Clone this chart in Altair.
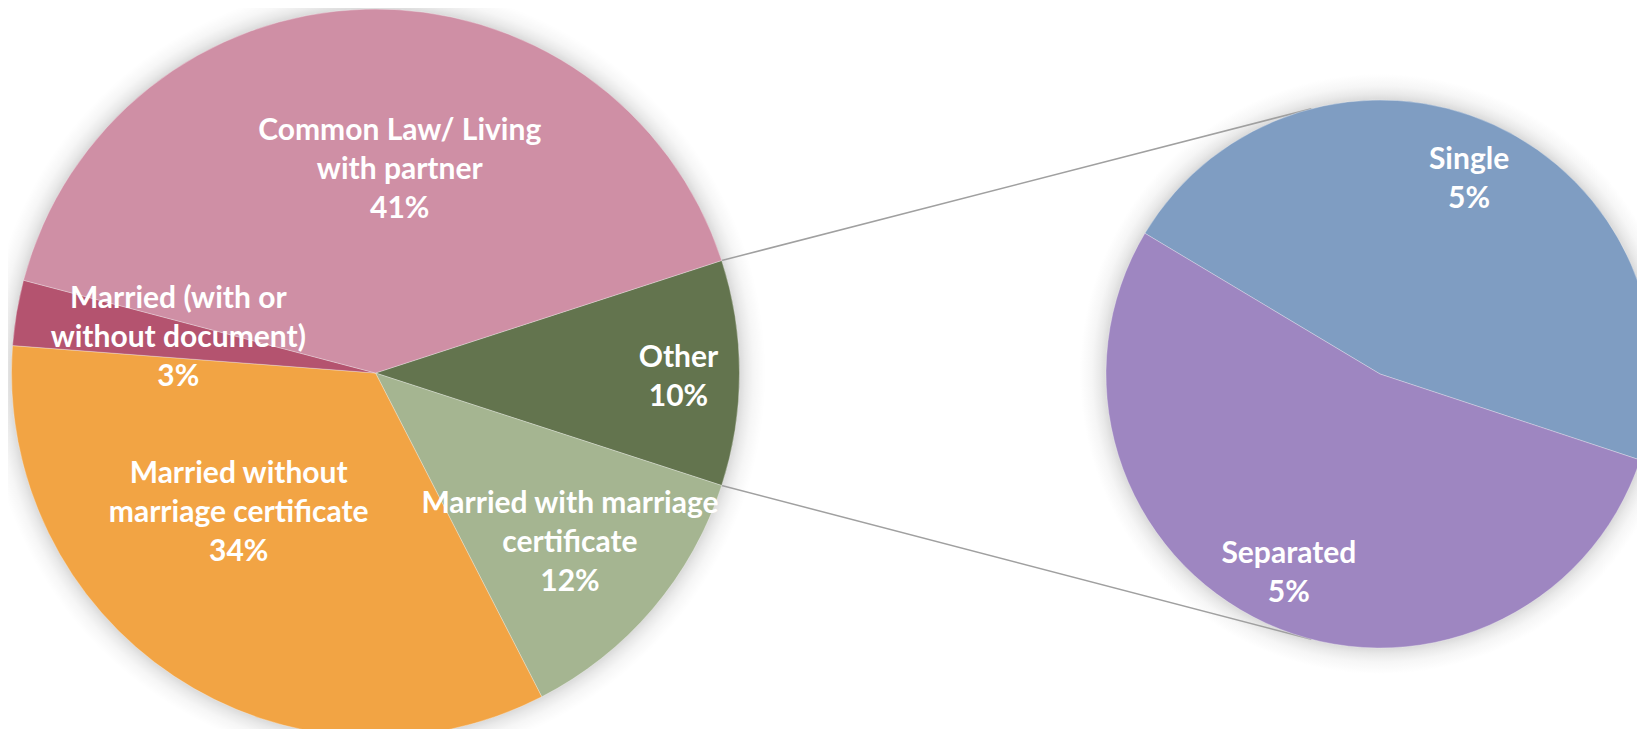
import math
import altair as alt
import pandas as pd

# ---------------- data ----------------
sub_cats = ["Single", "Separated"]
sub_vals = [4.65, 5.35]
sub_names = ["Single", "Separated"]

main_cats = ["Other", "Married with marriage certificate", "Married without marriage certificate",
             "Married (with or without document)", "Common Law/ Living with partner"]
main_rest_vals = [12.45, 33.75, 2.9, 40.9]
main_names = ["Other", "Married with marriage\ncertificate", "Married without\nmarriage certificate",
              "Married (with or\nwithout document)", "Common Law/ Living\nwith partner"]

palette_main = ["#63744E", "#A5B591", "#F2A444", "#B4536F", "#CF8FA5"]
palette_sub = ["#7F9DC2", "#9E86C1"]

main_vals = [sum(sub_vals)] + main_rest_vals


def frame(cats, vals, names):
    return pd.DataFrame({
        "cat": cats,
        "value": vals,
        "label": [n + "\n" + f"{round(v)}%" for n, v in zip(names, vals)],
        "idx": list(range(len(cats))),
    })


df_main = frame(main_cats, main_vals, main_names)
df_sub = frame(sub_cats, sub_vals, sub_names)

# ---------------- layout ----------------
MX, MY, MR = 367.5, 365.0, 364.0
SX, SY, SR = 1372.0, 366.0, 274.0
FONT = "Lato"
FS = 30
LH = 39

main_start = math.radians(90 - 180 * main_vals[0] / sum(main_vals))
sub_start = math.radians(300.9)

color_scale = alt.Scale(domain=main_cats + sub_cats, range=palette_main + palette_sub)
one = pd.DataFrame({"k": [0]})


def glow(cx, cy, r):
    R = r + 26
    grad = {
        "gradient": "radial",
        "x1": 0.5, "y1": 0.5, "r1": 0,
        "x2": 0.5, "y2": 0.5, "r2": 0.5,
        "stops": [
            {"offset": 0, "color": "#dadada"},
            {"offset": r / R, "color": "#dadada"},
            {"offset": (r + 6) / R, "color": "#e9e9e9"},
            {"offset": (r + 14) / R, "color": "#f6f6f6"},
            {"offset": 1, "color": "#ffffff"},
        ],
    }
    return alt.Chart(one).mark_arc(theta=0, theta2=2 * math.pi, radius=R, color=grad).encode(
        x=alt.value(cx), y=alt.value(cy))


def pie(df, cx, cy, r, start, label_specs):
    theta = alt.Theta("value:Q", stack=True,
                      scale=alt.Scale(range=[start, start + 2 * math.pi]))
    base = alt.Chart(df).encode(theta=theta, order=alt.Order("idx:Q"))
    arcs = base.mark_arc(radius=r, stroke="#ffffff", strokeWidth=0.6, strokeOpacity=0.5).encode(
        color=alt.Color("cat:N", scale=color_scale, legend=None),
        x=alt.value(cx), y=alt.value(cy))
    layers = [arcs]
    labels = dict(zip(df["cat"], df["label"]))
    for cat, rr, dx, dy in label_specs:
        nlines = labels[cat].count("\n") + 1
        shift = -(nlines - 1) * LH / 2  # centre the multi-line block on the anchor
        layers.append(
            base.mark_text(radius=rr, dx=dx, dy=dy + shift, font=FONT, fontSize=FS, fontWeight="bold",
                           color="#ffffff", lineBreak="\n", lineHeight=LH,
                           align="center", baseline="middle").encode(
                text=alt.condition(f"datum.cat === '{cat}'", "label:N", alt.value("")),
                x=alt.value(cx), y=alt.value(cy))
        )
    return alt.layer(*layers)


main_pie = pie(df_main, MX, MY, MR, main_start, [
    ("Other", 303, 0, 4),
    ("Married with marriage certificate", 258, -2, 3),
    ("Married without marriage certificate", 195, -29, -22),
    ("Married (with or without document)", 200, 0, -2),
    ("Common Law/ Living with partner", 204, 30, 1),
])
sub_pie = pie(df_sub, SX, SY, SR, sub_start, [
    ("Single", 214, 0, 0),
    ("Separated", 219, 0, 0),
])

# connector lines from the "Other" slice edges to the second pie
half = math.pi * main_vals[0] / sum(main_vals)
end_ang = math.radians(75.5)
lines = []
for s in (-1, 1):
    lines.append(alt.Chart(one).mark_rule(color="#a0a0a0", strokeWidth=1.5).encode(
        x=alt.value(MX + MR * math.cos(half)), y=alt.value(MY + s * MR * math.sin(half)),
        x2=alt.value(SX - SR * math.cos(end_ang)), y2=alt.value(SY + s * SR * math.sin(end_ang))))

chart = alt.layer(
    glow(MX, MY, MR), glow(SX, SY, SR), *lines, main_pie, sub_pie
).resolve_scale(theta="independent").properties(
    width=1629, height=721, padding=0,
    autosize=alt.AutoSizeParams(type="none"),
    background="#ffffff",
).configure_view(stroke=None)

chart.save("out.html", embed_options={"renderer": "svg", "actions": False})
